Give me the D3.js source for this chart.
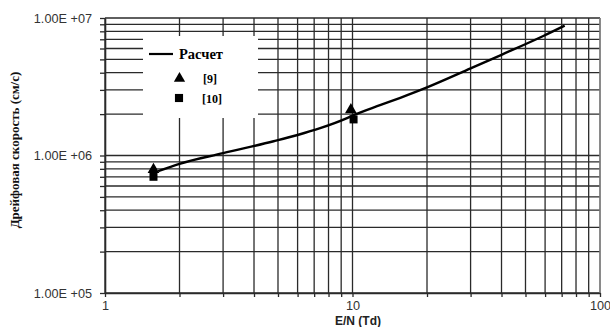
<!DOCTYPE html>
<html><head><meta charset="utf-8">
<script src="https://cdn.jsdelivr.net/npm/d3@7"></script>
<style>body{margin:0;background:#fff;}svg{display:block;}</style>
</head><body>
<svg id="c" width="610" height="327"></svg>
<script>
// Calculated curve (E/N in Td, drift velocity in cm/s)
const calcEN = [1.64, 2, 3, 4.8, 6, 7.4, 9.5, 10, 13, 15.6, 20, 30, 40, 59, 72];
const calcV  = [7.7e5, 8.7e5, 1.04e6, 1.27e6, 1.41e6, 1.58e6, 1.87e6, 1.95e6, 2.33e6, 2.63e6, 3.13e6, 4.3e6, 5.4e6, 7.4e6, 8.8e6];
// Ref [9] (triangles)
const ref9EN = [1.57, 9.85];
const ref9V  = [7.9e5, 2.15e6];
// Ref [10] (squares)
const ref10EN = [1.57, 10.1];
const ref10V  = [7.0e5, 1.83e6];
const xTickLabels = [1, 10, 100];
const yTickLabels = ["1.00E +05", "1.00E +06", "1.00E +07"];
const yDecades = [1e5, 1e6, 1e7];
const legendLabels = ["Расчет", "[9]", "[10]"];

const svg = d3.select("#c");
const L = 105, R = 600, T = 18, B = 293;
const x = d3.scaleLog().domain([1, 100]).range([L, R]);
const y = d3.scaleLog().domain([1e5, 1e7]).range([B, T]);
const gridCol = "#2a2a2a";

const xt = x.ticks();
const yt = y.ticks();

// grid
const g = svg.append("g");
g.selectAll(".hg").data(yt).join("line")
  .attr("x1", L).attr("x2", R).attr("y1", d => y(d)).attr("y2", d => y(d))
  .attr("stroke", gridCol).attr("stroke-width", 1.3);
g.selectAll(".vg").data(xt).join("line")
  .attr("y1", T).attr("y2", B).attr("x1", d => x(d)).attr("x2", d => x(d))
  .attr("stroke", gridCol).attr("stroke-width", 1.3);
// right border
svg.append("line").attr("x1", R).attr("x2", R).attr("y1", T).attr("y2", B)
  .attr("stroke", "#999").attr("stroke-width", 1.2);

// axes
const fmtY = d => { const i = yDecades.findIndex(v => Math.abs(v - d) / v < 1e-6); return i >= 0 ? yTickLabels[i] : ""; };
const fmtX = d => xTickLabels.some(v => Math.abs(v - d) < 1e-6) ? String(Math.round(d)) : "";
const ya = svg.append("g").attr("transform", `translate(${L},0)`)
  .call(d3.axisLeft(y).tickValues(yt).tickSize(5).tickSizeOuter(0).tickFormat(fmtY));
const xa = svg.append("g").attr("transform", `translate(0,${B})`)
  .call(d3.axisBottom(x).tickValues(xt).tickSize(4).tickSizeOuter(0).tickFormat(fmtX));
[ya, xa].forEach(a => {
  a.select(".domain").attr("stroke", gridCol).attr("stroke-width", 1.6);
  a.selectAll(".tick line").attr("stroke", gridCol).attr("stroke-width", 1.3);
  a.selectAll("text").attr("fill", "#333").attr("font-family", "Liberation Sans, Arial, sans-serif").attr("font-size", 12.7);
});
ya.selectAll("text").attr("x", -13);
xa.selectAll("text").attr("y", 8);

// legend box
svg.append("rect").attr("x", 143).attr("y", 36).attr("width", 115).attr("height", 82).attr("fill", "#fff");

// curve
const line = d3.line().x((d, i) => x(calcEN[i])).y((d, i) => y(calcV[i])).curve(d3.curveMonotoneX);
svg.append("path").datum(calcV).attr("d", line).attr("fill", "none")
  .attr("stroke", "#000").attr("stroke-width", 2.4);

// markers
const tri = d3.symbol().type(d3.symbolTriangle).size(60);
const sq = d3.symbol().type(d3.symbolSquare).size(64);
svg.selectAll(".r10").data(ref10V).join("path")
  .attr("d", sq).attr("transform", (d, i) => `translate(${x(ref10EN[i])},${y(d)})`).attr("fill", "#000");
svg.selectAll(".r9").data(ref9V).join("path")
  .attr("d", tri).attr("transform", (d, i) => `translate(${x(ref9EN[i])},${y(d)})`).attr("fill", "#000");

// legend content
const lg = svg.append("g").attr("font-family", "Liberation Serif, Times New Roman, serif").attr("font-weight", "bold").attr("fill", "#000");
lg.append("line").attr("x1", 149).attr("x2", 173).attr("y1", 54).attr("y2", 54).attr("stroke", "#000").attr("stroke-width", 2.2);
lg.append("text").attr("x", 179).attr("y", 58.5).attr("font-size", 14.5).text(legendLabels[0]);
lg.append("path").attr("d", d3.symbol().type(d3.symbolTriangle).size(55)).attr("transform", "translate(179.5,78.5)");
lg.append("text").attr("x", 203).attr("y", 83).attr("font-size", 12).text(legendLabels[1]);
lg.append("path").attr("d", d3.symbol().type(d3.symbolSquare).size(66)).attr("transform", "translate(179,98)");
lg.append("text").attr("x", 202).attr("y", 102.5).attr("font-size", 12).text(legendLabels[2]);

// axis titles
svg.append("text").attr("transform", "translate(19,150) rotate(-90)").attr("text-anchor", "middle")
  .attr("font-family", "Liberation Serif, Times New Roman, serif").attr("font-weight", "bold").attr("font-size", 13)
  .attr("fill", "#111").text("Дрейфовая скорость (см/с)");
svg.append("text").attr("x", 358).attr("y", 325).attr("text-anchor", "middle")
  .attr("font-family", "Liberation Sans, Arial, sans-serif").attr("font-weight", "bold").attr("font-size", 12)
  .attr("fill", "#222").text("E/N (Td)");
</script>
</body></html>
